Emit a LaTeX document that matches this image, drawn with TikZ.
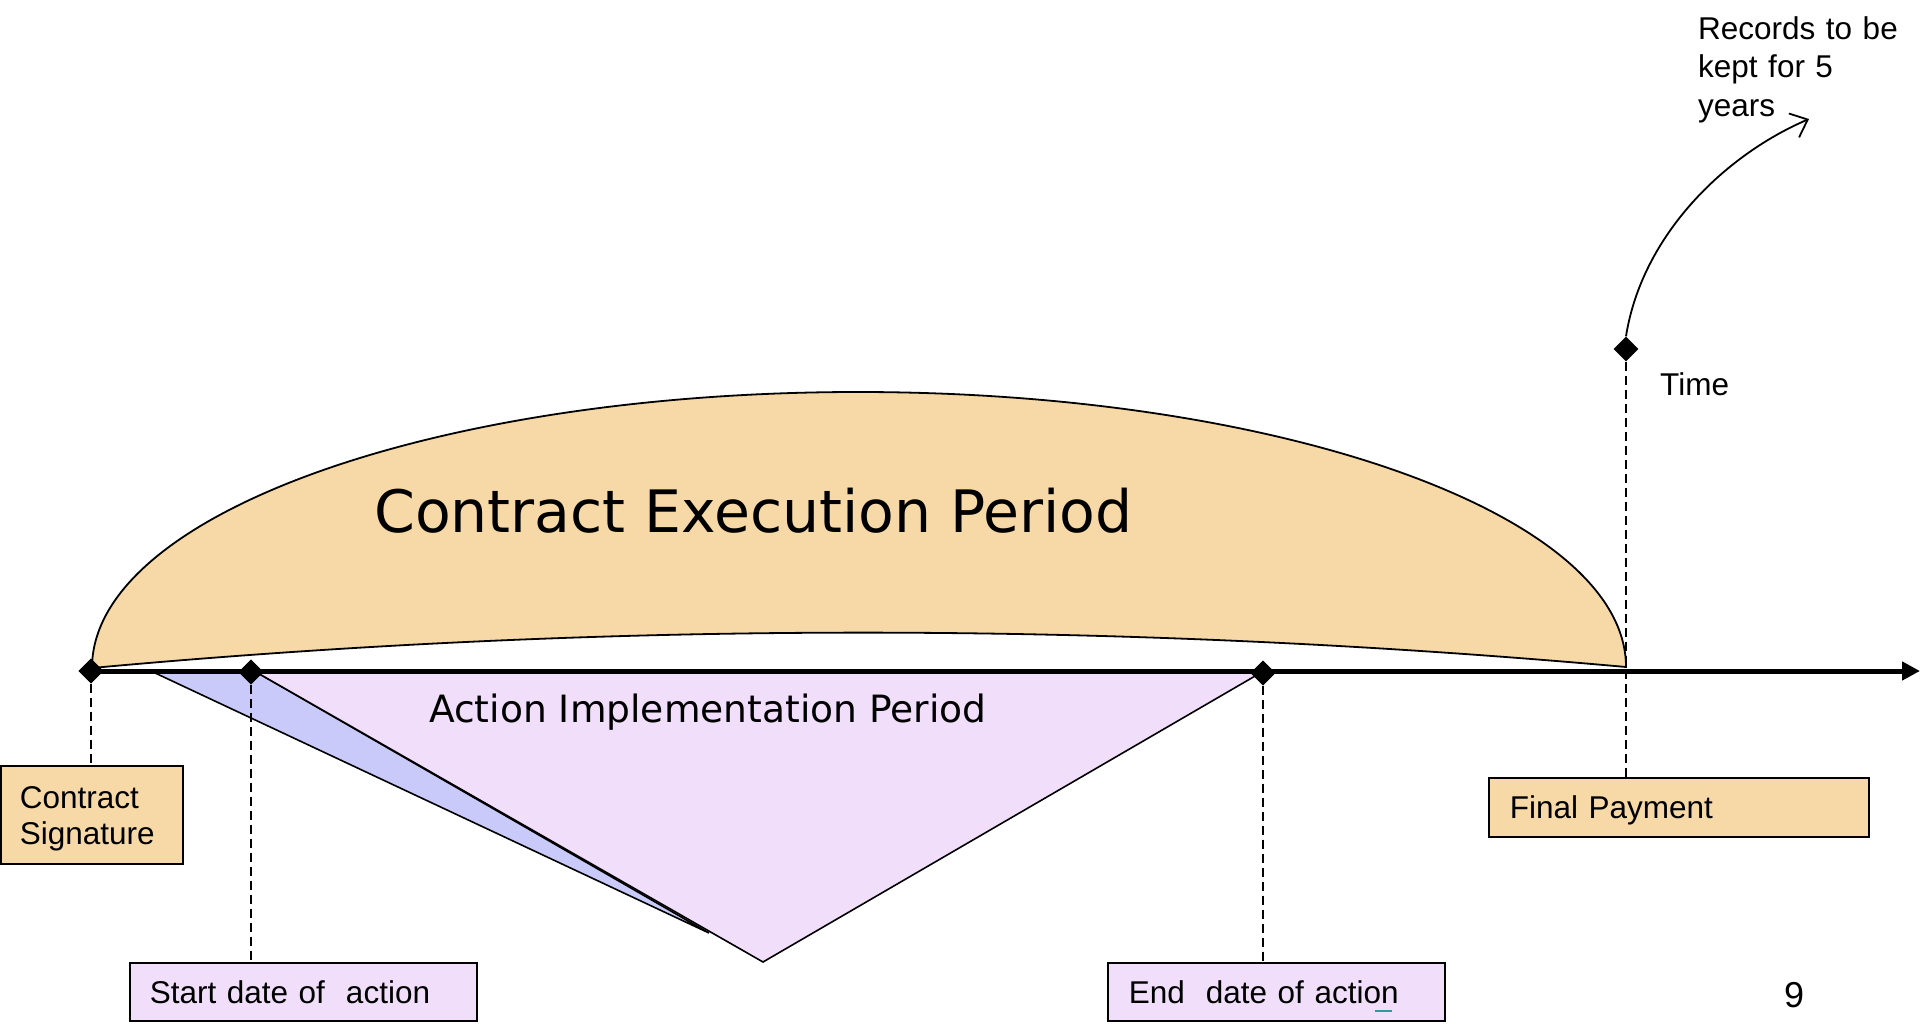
\documentclass[tikz,border=0pt]{standalone}
\usepackage{fontspec}
\setmainfont{Liberation Sans}
\newfontfamily\dejavu{DejaVu Sans}
\usetikzlibrary{shapes.geometric,arrows.meta}
\definecolor{tanc}{HTML}{F6D9A6}
\definecolor{lilac}{HTML}{F1DEFB}
\definecolor{bluec}{HTML}{C9C9FA}
\definecolor{tealc}{HTML}{2E9A9A}
\tikzset{
  dia/.style={diamond, fill=black, draw=none, minimum width=25pt, minimum height=25pt, inner sep=0pt},
  outl/.style={draw=black, line width=1.6pt},
  dashline/.style={draw=black, line width=1.5pt, dash pattern=on 9pt off 5pt},
  labbox/.style={draw=black, line width=1.8pt, anchor=north west, align=left, inner ysep=0pt,
     font=\fontsize{31.5}{36}\selectfont, text height=22.5pt, text depth=0pt},
  plain/.style={inner sep=0pt, font=\fontsize{31.5}{38.5}\selectfont},
}
\begin{document}
\begin{tikzpicture}[x=1pt,y=-1pt]
\useasboundingbox (0,0) rectangle (1920,1024);
% contract execution period (lens)
\filldraw[fill=tanc, outl, line width=1.8pt]
  (92,668) .. controls (92,515) and (434,392) .. (858,392)
  .. controls (1282,392) and (1626,515) .. (1626,667)
  .. controls (1115,621) and (603,621) .. (92,668) -- cycle;
% action implementation period
\filldraw[fill=bluec, outl] (153,672) -- (256,672) -- (709,933) -- cycle;
\filldraw[fill=lilac, outl] (256,672) -- (763,962) -- (1262,672) -- cycle;
% time axis
\coordinate (axend) at (1920,671);
\coordinate (rt) at (1809,119);
\node[dia] (cs) at (91,671) {};
\node[dia] (sd) at (251,672) {};
\node[dia] (ed) at (1263,673) {};
\node[dia] (fp) at (1626,349) {};
\draw[line width=5pt, -{Triangle[length=18pt,width=18pt]}] (cs.center) -- (axend);
\node[dia] at (cs) {};
\node[dia] at (sd) {};
\node[dia] at (ed) {};
% boxes
\node[labbox, fill=tanc, minimum width=182pt, minimum height=98pt, text width=144pt, inner xsep=19pt, text depth=36pt] (csbox) at (0,765) {Contract\\Signature};
\node[labbox, fill=lilac, minimum width=347pt, minimum height=58pt, text width=307pt, inner xsep=20pt] (sdbox) at (129,962) {Start date of~ action};
\node[labbox, fill=lilac, minimum width=337pt, minimum height=58pt, text width=295pt, inner xsep=21pt] (edbox) at (1107,962) {End~ date of action};
\node[labbox, fill=tanc, minimum width=380pt, minimum height=59pt, text width=338pt, inner xsep=21pt] (fpbox) at (1488,777) {Final Payment};
% dashed leaders
\draw[dashline] (cs.south) -- (cs.south |- csbox.north);
\draw[dashline] (sd.south) -- (sd.south |- sdbox.north);
\draw[dashline] (ed.south) -- (ed.south |- edbox.north);
\draw[dashline] (fp.south) -- (fp.south |- fpbox.north);
% small teal mark
\draw[tealc, line width=2pt] (1375,1011) -- (1392,1011);
% titles
\node[inner sep=0pt, anchor=base west, font=\dejavu\fontsize{58.5}{60}\selectfont] (cep) at (374,532) {Contract Execution Period};
\node[inner sep=0pt, anchor=base west, font=\dejavu\fontsize{37.6}{40}\selectfont] (aip) at (429,722) {Action Implementation Period};
% time and records
\node[plain, anchor=base west] (time) at (1660,395) {Time};
\node[plain, anchor=north west, align=left, text width=215pt, text height=22.5pt] (rec) at (1698,16.5) {Records to be\\kept for 5\\years};
\draw[line width=1.8pt, -{Straight Barb[length=15pt,width=26pt]}] (fp.north) .. controls (1642,235) and (1725,155) .. (rt);
\node[inner sep=0pt, anchor=base west, font=\fontsize{36}{40}\selectfont] (pg) at (1784,1007) {9};
\end{tikzpicture}
\end{document}
